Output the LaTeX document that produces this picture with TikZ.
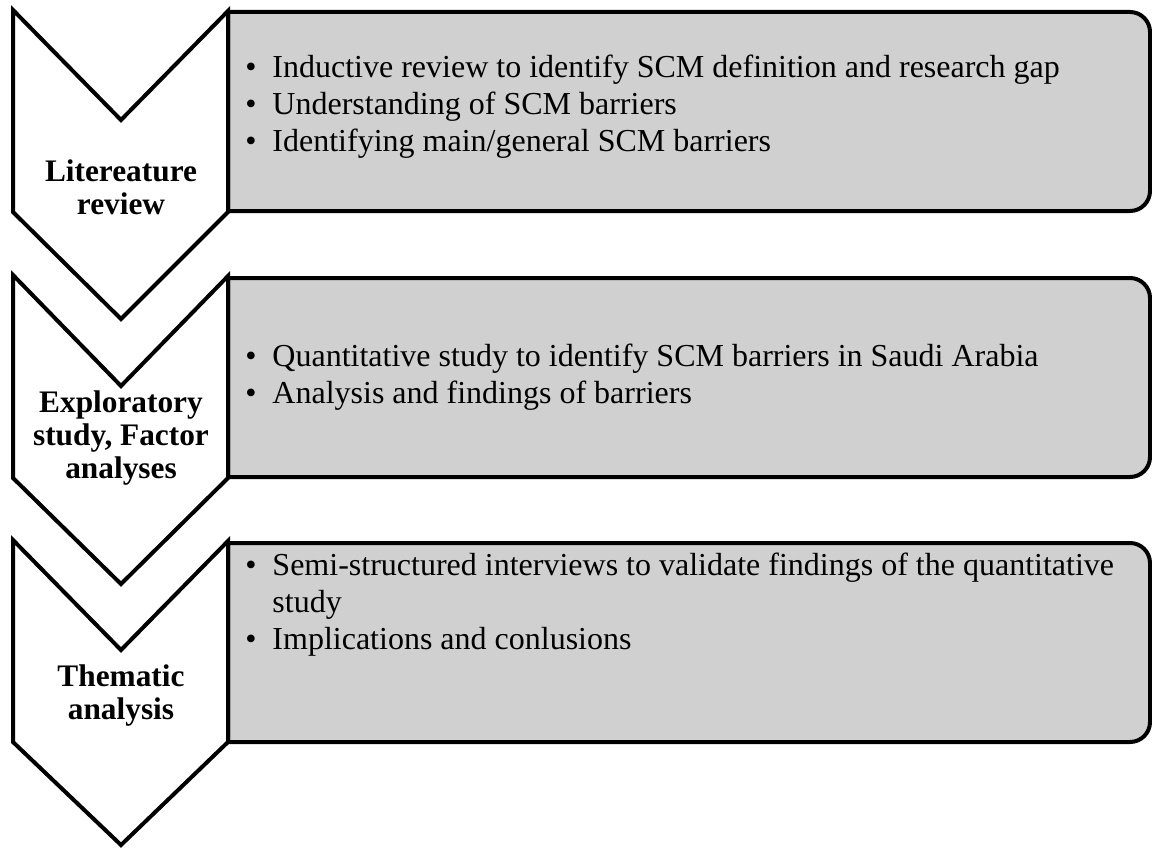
\documentclass[tikz,border=0pt]{standalone}
\usepackage{fontspec}
\setmainfont{Liberation Serif}
\usetikzlibrary{positioning,calc}
\definecolor{panelgray}{HTML}{D0D0D0}

\begin{document}
\begin{tikzpicture}[
    x=0.75pt, y=-0.75pt,
    chev/.style={draw=black, fill=white, line width=3pt, line join=miter},
    panel/.style={draw=black, fill=panelgray, line width=3pt},
    stage/.style={font=\fontsize{23.5}{24.75}\selectfont\bfseries, align=center, inner sep=0pt},
    points/.style={font=\fontsize{24}{27.75}\selectfont, align=left, anchor=west, inner sep=0pt}
]
\useasboundingbox (0,0) rectangle (1152,849);

% Panels (right side)
\draw[panel] (228,12) [rounded corners=15pt] -- (1150,12) -- (1150,211) [sharp corners] -- (228,211) -- cycle;
\draw[panel] (228,278) [rounded corners=15pt] -- (1150,278) -- (1150,477) [sharp corners] -- (228,477) -- cycle;
\draw[panel] (228,543) [rounded corners=15pt] -- (1150,543) -- (1150,742) [sharp corners] -- (228,742) -- cycle;

% Chevrons (left side)
\draw[chev] (13,10) -- (121,120) -- (228,11) -- (228,212) -- (121,319) -- (13,212) -- cycle;
\draw[chev] (13,275) -- (121,386) -- (228,276) -- (228,478) -- (121,584) -- (13,478) -- cycle;
\draw[chev] (13,540) -- (121,650) -- (228,541) -- (228,742) -- (121,845) -- (13,742) -- cycle;

% Stage labels
\node[stage] (lit) at (121,187) {Litereature\\review};
\node[stage] (expl) at (121,438) {Exploratory\\study, Factor\\analyses};
\node[stage] (them) at (121,696) {Thematic\\analysis};

% Bullet points
\node[points] (pts1) at (245,107) {\textbullet\enspace Inductive review to identify SCM definition and research gap\\
  \textbullet\enspace Understanding of SCM barriers\\
  \textbullet\enspace Identifying main/general SCM barriers};
\node[points] (pts2) at (245,377) {\textbullet\enspace Quantitative study to identify SCM barriers in Saudi Arabia\\
  \textbullet\enspace Analysis and findings of barriers};
\node[points] (pts3) at (245,605) {\textbullet\enspace Semi-structured interviews to validate findings of the quantitative\\
  \phantom{\textbullet\enspace}study\\
  \textbullet\enspace Implications and conlusions};

\end{tikzpicture}
\end{document}
